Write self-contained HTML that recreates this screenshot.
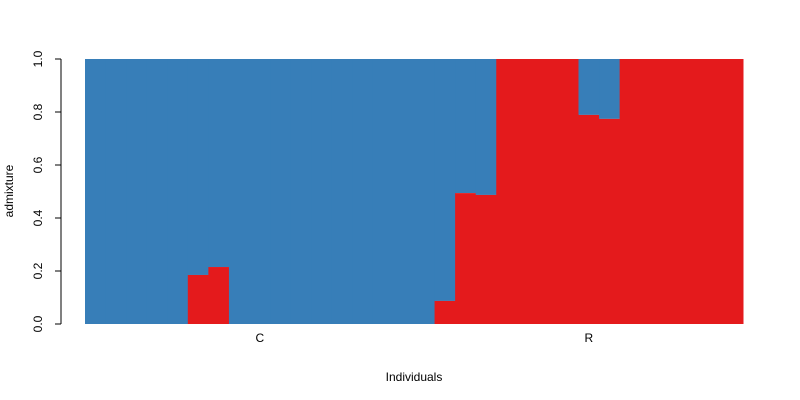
<!DOCTYPE html>
<html><head><meta charset="utf-8"><style>
html,body{margin:0;padding:0;background:#fff;}
svg{display:block;font-family:"Liberation Sans",Arial,sans-serif;}
</style></head><body>
<svg id="chart" width="800" height="400"></svg>
<script>
const groups = ["C","R"];
const groupSizes = [17,15];
const redValues = [0,0,0,0,0,0.185,0.215,0,0,0,0,0,0,0,0,0,0,
                   0.087,0.494,0.487,1,1,1,1,0.789,0.774,1,1,1,1,1,1];
const yTicks = [0,0.2,0.4,0.6,0.8,1.0];
const yTickLabels = ["0.0","0.2","0.4","0.6","0.8","1.0"];

const NS="http://www.w3.org/2000/svg";
const svg=document.getElementById('chart');
const x0=85,x1=743,y0=324,y1=59;
const n=redValues.length, bw=(x1-x0)/n;
const xs=i=>x0+i*bw;
const ys=v=>y0-(y0-y1)*v;
function el(t,a){const e=document.createElementNS(NS,t);for(const k in a)e.setAttribute(k,a[k]);svg.appendChild(e);return e;}

redValues.forEach((v,i)=>{
  const b=el('rect',{x:xs(i),y:ys(1),width:bw+0.5,height:ys(v)-ys(1),fill:'#377EB8'});
  
  
  const r=el('rect',{x:xs(i),y:ys(v),width:bw+0.5,height:y0-ys(v),fill:'#E41A1C'});
  
  
});

const ax=el('line',{x1:61,y1:ys(0),x2:61,y2:ys(1),stroke:'#000'});


yTicks.forEach((t,i)=>{
  const tk=el('line',{x1:55,y1:ys(t),x2:61,y2:ys(t),stroke:'#000'});
  
  
  const tx=el('text',{x:0,y:0,'font-size':12,'text-anchor':'middle',transform:`translate(42,${ys(t)}) rotate(-90)`});
  tx.textContent=yTickLabels[i];
  
  
});

let start=0;
groups.forEach((g,i)=>{
  const c=xs(start+groupSizes[i]/2);
  const t=el('text',{x:c,y:342,'font-size':12,'text-anchor':'middle'});
  t.textContent=g;
  
  
  start+=groupSizes[i];
});

const xt=el('text',{x:414,y:381,'font-size':12,'text-anchor':'middle'});
xt.textContent='Individuals';


const yt=el('text',{x:0,y:0,'font-size':12,'text-anchor':'middle',transform:'translate(13,191) rotate(-90)'});
yt.textContent='admixture';


</script>
</body></html>
